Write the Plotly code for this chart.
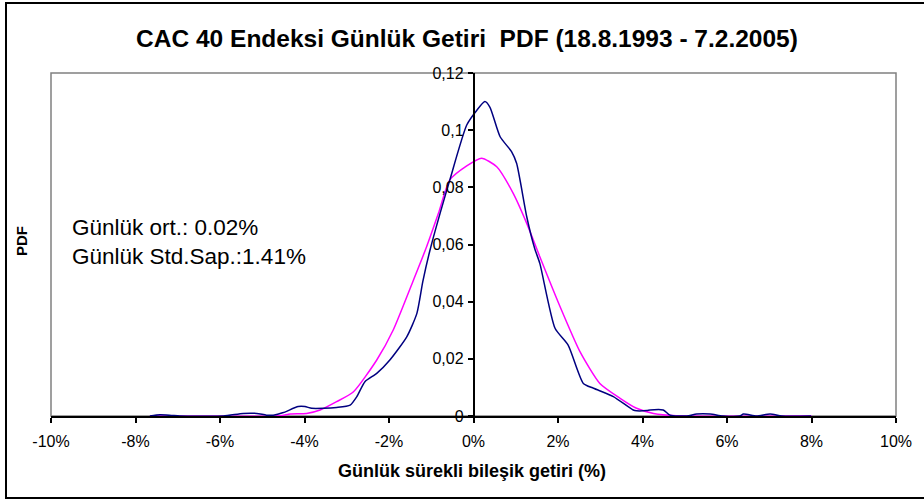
import plotly.graph_objects as go

# Empirical PDF (navy)
emp_x = [-7.66, -7.42, -7.15, -6.95, -5.92, -5.45, -5.13, -4.90, -4.74, -4.50, -4.15, -3.99, -3.83,
         -3.55, -3.24, -2.92, -2.76, -2.57, -2.29, -1.98, -1.58, -1.34, -1.20, -1.03, -0.56,
         -0.16, 0.08, 0.27, 0.39, 0.63, 0.90, 1.02, 1.26, 1.45, 1.57, 1.93, 2.24, 2.60, 2.84, 3.31,
         3.78, 3.86, 4.10, 4.18, 4.49, 4.65, 5.05, 5.28, 5.60, 5.90, 6.30, 6.39, 6.70, 7.02, 7.30, 7.99]
emp_y = [0.0, 0.0004, 0.0002, 0.0, 0.0, 0.0009, 0.0009, 0.0003, 0.0003, 0.0012, 0.0033, 0.0033, 0.0027,
         0.0027, 0.0030, 0.0038, 0.0068, 0.0120, 0.0149, 0.0196, 0.0277, 0.0359, 0.0470, 0.0580, 0.0826,
         0.1018, 0.1070, 0.1100, 0.1080, 0.0977, 0.0925, 0.0884, 0.0697, 0.0585, 0.0534, 0.0307, 0.0248, 0.0114, 0.0097, 0.0068,
         0.0021, 0.0018, 0.0019, 0.0021, 0.0021, 0.0003, 0.0, 0.0007, 0.0007, 0.0, 0.0, 0.0007, 0.0, 0.0007, 0.0, 0.0]

# Normal PDF (magenta)
norm_x = [-7.66, -4.58, -4.34, -3.95, -3.63, -3.24, -2.84, -2.29, -1.90, -1.42, -1.11, -0.83, -0.56,
          -0.16, 0.19, 0.55, 0.94, 1.26, 1.57, 2.05, 2.52, 2.99, 3.47, 3.86, 4.26, 4.80, 8.00]
norm_y = [0.0, 0.0001, 0.0007, 0.0009, 0.0021, 0.0050, 0.0085, 0.0196, 0.0301, 0.0476, 0.0592, 0.0709, 0.0826,
          0.0875, 0.0902, 0.0872, 0.0779, 0.0674, 0.0557, 0.0382, 0.0225, 0.0114, 0.0062, 0.0027, 0.0009, 0.0001, 0.0]

x_ticks = [-10, -8, -6, -4, -2, 0, 2, 4, 6, 8, 10]
y_ticks = [0, 0.02, 0.04, 0.06, 0.08, 0.1, 0.12]

title_text = "<b>CAC 40 Endeksi Günlük Getiri  PDF (18.8.1993 - 7.2.2005)</b>"
x_title = "<b>Günlük sürekli bileşik getiri (%)</b>"
y_title = "<b>PDF</b>"
stats_text = "Günlük ort.: 0.02%<br>Günlük Std.Sap.:1.41%"

fig = go.Figure()
fig.add_trace(go.Scatter(x=norm_x, y=norm_y, mode="lines",
                         line=dict(color="#FF00FF", width=1.5, shape="spline", smoothing=0.6),
                         showlegend=False, hoverinfo="skip"))
fig.add_trace(go.Scatter(x=emp_x, y=emp_y, mode="lines",
                         line=dict(color="#000080", width=1.5, shape="spline", smoothing=0.6),
                         showlegend=False, hoverinfo="skip"))

font_family = "Liberation Sans, Arial, sans-serif"

fig.update_layout(
    width=924, height=502,
    margin=dict(l=51, r=28, t=73, b=86),
    paper_bgcolor="white", plot_bgcolor="white",
    separators=",.",
    font=dict(family=font_family, color="black", size=16),
    title=dict(text=title_text, x=(467 - 51) / 845, xanchor="center", xref="paper",
               y=(502 - 38) / 502, yanchor="middle",
               font=dict(size=24.5, family=font_family, color="black")),
    xaxis=dict(range=[-10, 10], tickvals=x_ticks, ticktext=[f"{v}%" for v in x_ticks],
               showgrid=False, zeroline=False, showline=True, linecolor="black", linewidth=1.5,
               ticks="outside", ticklen=5, tickcolor="black", tickwidth=1.5,
               ticklabelstandoff=5,
               tickfont=dict(size=16), fixedrange=True),
    yaxis=dict(range=[0, 0.12], tickvals=y_ticks, showgrid=False, zeroline=False,
               showline=True, linecolor="black", linewidth=1.5,
               anchor="free", position=0.5,
               ticks="outside", ticklen=5, tickcolor="black", tickwidth=1.5,
               ticklabelstandoff=1,
               tickfont=dict(size=16), fixedrange=True),
    shapes=[
        dict(type="rect", xref="paper", yref="paper", x0=0, x1=1, y0=0, y1=1,
             line=dict(color="#808080", width=1.5), layer="below"),
        dict(type="rect", xref="paper", yref="paper", x0=(6 - 51) / 845, x1=(940 - 51) / 845,
             y0=(416 - 498) / 343, y1=(416 - 3) / 343,
             line=dict(color="black", width=2), layer="below"),
    ],
    annotations=[
        dict(text=x_title, xref="paper", yref="paper", x=(472 - 51) / 845, y=(416 - 471) / 343,
             xanchor="center", yanchor="middle", showarrow=False, font=dict(size=18)),
        dict(text=y_title, xref="paper", yref="paper", x=(21 - 51) / 845, y=(416 - 241) / 343,
             xanchor="center", yanchor="middle", showarrow=False, textangle=-90, font=dict(size=15)),
        dict(text=stats_text, xref="paper", yref="paper", x=(70 - 51) / 845, y=(416 - 242) / 343,
             xanchor="left", yanchor="middle", align="left", showarrow=False,
             font=dict(size=22.5)),
    ],
)

fig.write_html("out.html", config={"displayModeBar": False},
               post_script="document.body.style.margin='0';document.body.style.padding='0';")
